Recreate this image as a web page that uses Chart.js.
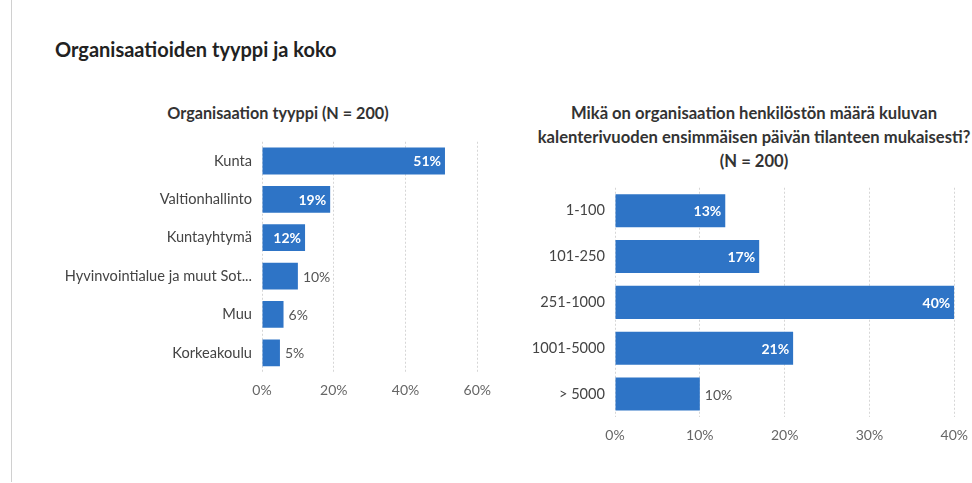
<!DOCTYPE html>
<html lang="fi">
<head>
<meta charset="utf-8">
<title>Organisaatioiden tyyppi ja koko</title>
<script src="https://cdn.jsdelivr.net/npm/chart.js@4/dist/chart.umd.min.js"></script>
<style>
  html, body { margin: 0; padding: 0; background: #fff; }
  body { width: 972px; height: 483px; position: relative; overflow: hidden; font-family: Lato, "Noto Sans", sans-serif; }
  .frame { position: absolute; left: 11px; top: 0; width: 0; height: 482px; border-left: 1px solid #d0d0d0; }
  .main-title { position: absolute; left: 55px; top: 37px; font-size: 20px; font-weight: 700; color: #222; white-space: nowrap; }
  .sub { position: absolute; text-align: center; font-weight: 700; color: #333; line-height: 24px; white-space: nowrap; }
  canvas { position: absolute; }
</style>
</head>
<body>
<div class="frame"></div>
<div class="main-title">Organisaatioiden tyyppi ja koko</div>
<div class="sub" style="left:78px; top:101px; width:400px; font-size:16.2px;">Organisaation tyyppi (N = 200)</div>
<div class="sub" style="left:534px; top:101px; width:440px; font-size:16.6px;">Mikä on organisaation henkilöstön määrä kuluvan<br>kalenterivuoden ensimmäisen päivän tilanteen mukaisesti?<br>(N = 200)</div>

<canvas id="typeChart" style="left:40px; top:123px;" width="461" height="289"></canvas>
<canvas id="sizeChart" style="left:520px; top:169px;" width="458" height="288"></canvas>

<script>
// Organisation type, share of respondents (%)
const typeLabels = ['Kunta', 'Valtionhallinto', 'Kuntayhtymä', 'Hyvinvointialue ja muut Sot...', 'Muu', 'Korkeakoulu'];
const typeValues = [51, 19, 12, 10, 6, 5];
const typeTicks = [0, 20, 40, 60];

// Staff size on the first day of the calendar year (%)
const sizeLabels = ['1-100', '101-250', '251-1000', '1001-5000', '> 5000'];
const sizeValues = [13, 17, 40, 21, 10];
const sizeTicks = [0, 10, 20, 30, 40];

const BAR_BLUE = '#2e74c6';
const FONT = 'Lato, "Noto Sans", sans-serif';

// Value labels: white inside the bar for larger values, grey after the bar for small ones
const valueLabels = {
  id: 'valueLabels',
  afterDatasetsDraw(chart) {
    const ctx = chart.ctx;
    const meta = chart.getDatasetMeta(0);
    const values = chart.data.datasets[0].data;
    ctx.save();
    ctx.textBaseline = 'middle';
    meta.data.forEach((bar, i) => {
      const v = values[i];
      const txt = v + '%';
      if (v > 10) {
        ctx.font = '700 14px ' + FONT;
        ctx.fillStyle = '#ffffff';
        ctx.textAlign = 'right';
        ctx.fillText(txt, bar.x - 4, bar.y + 1);
      } else {
        ctx.font = '400 14px ' + FONT;
        ctx.fillStyle = '#555555';
        ctx.textAlign = 'left';
        ctx.fillText(txt, bar.x + 5, bar.y + 1);
      }
    });
    ctx.restore();
  }
};

function makeChart(id, labels, values, ticks, opts) {
  return new Chart(document.getElementById(id), {
    type: 'bar',
    data: {
      labels: labels,
      datasets: [{
        data: values,
        backgroundColor: BAR_BLUE,
        borderWidth: 0,
        categoryPercentage: 1,
        barPercentage: opts.barPct
      }]
    },
    options: {
      indexAxis: 'y',
      responsive: false,
      animation: false,
      devicePixelRatio: 1,
      layout: { padding: 0 },
      plugins: { legend: { display: false }, tooltip: { enabled: false } },
      scales: {
        x: {
          min: ticks[0],
          max: ticks[ticks.length - 1],
          afterBuildTicks(scale) { scale.ticks = ticks.map(v => ({ value: v })); },
          afterFit(scale) { scale.height = 40; },
          border: { display: false, dash: [2, 2] },
          grid: { color: '#d6d6d6', lineWidth: 1, drawTicks: false },
          ticks: {
            padding: 10,
            color: '#666',
            font: { family: FONT, size: 14 },
            callback: v => v + '%'
          }
        },
        y: {
          afterFit(scale) { scale.width = opts.yWidth; },
          border: { display: false },
          grid: { display: false, drawTicks: false },
          ticks: {
            padding: 10,
            color: '#444',
            font: { family: FONT, size: 14.6 },
            autoSkip: false
          }
        }
      }
    },
    plugins: [valueLabels]
  });
}

makeChart('typeChart', typeLabels, typeValues, typeTicks, { barPct: 0.70, yWidth: 222 });
makeChart('sizeChart', sizeLabels, sizeValues, sizeTicks, { barPct: 0.72, yWidth: 95 });
</script>
</body>
</html>
